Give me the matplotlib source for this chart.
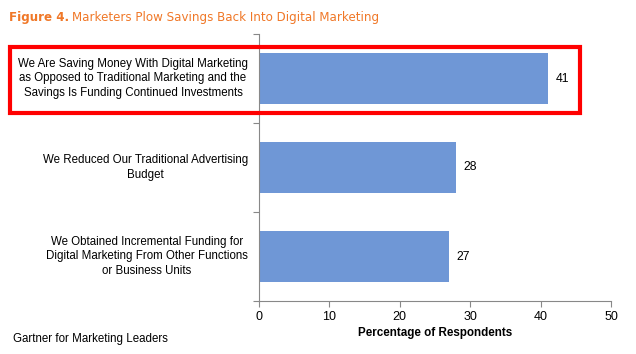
import matplotlib.pyplot as plt
from matplotlib.patches import Rectangle

labels = ["We Are Saving Money With Digital Marketing\nas Opposed to Traditional Marketing and the\nSavings Is Funding Continued Investments",
          "We Reduced Our Traditional Advertising\nBudget",
          "We Obtained Incremental Funding for\nDigital Marketing From Other Functions\nor Business Units"]
values = [41, 28, 27]

plt.rcParams['font.family'] = ['Liberation Sans', 'DejaVu Sans']

fig = plt.figure(figsize=(6.36, 3.54), dpi=100)
ax = fig.add_axes([259/636, 1 - 301/354, 352/636, 267/354])

pos = [2, 1, 0]
ax.barh(pos, values, height=0.58, color='#6F97D6')
for p, v in zip(pos, values):
    ax.text(v + 1.1, p, str(v), va='center', ha='left', fontsize=8.8)

ax.set_xlim(0, 50)
ax.set_ylim(-0.5, 2.5)
ax.set_xticks([0, 10, 20, 30, 40, 50])
ax.set_yticks([-0.5, 0.5, 1.5, 2.5])
ax.set_yticklabels([])
ax.tick_params(axis='both', direction='out', length=4, color='#888888', labelsize=9)
ax.tick_params(axis='x', pad=3)
for s in ['top', 'right']:
    ax.spines[s].set_visible(False)
for s in ['left', 'bottom']:
    ax.spines[s].set_color('#888888')
ax.set_xlabel("Percentage of Respondents", fontsize=8.4, fontweight='bold', labelpad=3)

for p, lab in zip(pos, labels):
    fig.text(248/636, ax.transData.transform((0, p))[1] / 354, lab, ha='right', va='center',
             multialignment='center', fontsize=8.3, linespacing=1.3)

fig.patches.append(Rectangle((10/636, 1 - 113/354), 570/636, 66/354, transform=fig.transFigure,
                             fill=False, edgecolor='#FF0000', linewidth=3))

fig.text(9/636, 1 - 17/354, "Figure 4.", fontsize=8.6, fontweight='bold', color='#F07828',
         family='DejaVu Sans', va='center')
fig.text(72/636, 1 - 17/354, "Marketers Plow Savings Back Into Digital Marketing", fontsize=8.6,
         color='#F07828', family='DejaVu Sans', va='center')
fig.text(13/636, 1 - 339/354, "Gartner for Marketing Leaders", fontsize=8.3, va='center')

fig.savefig("out.png", dpi=100)
